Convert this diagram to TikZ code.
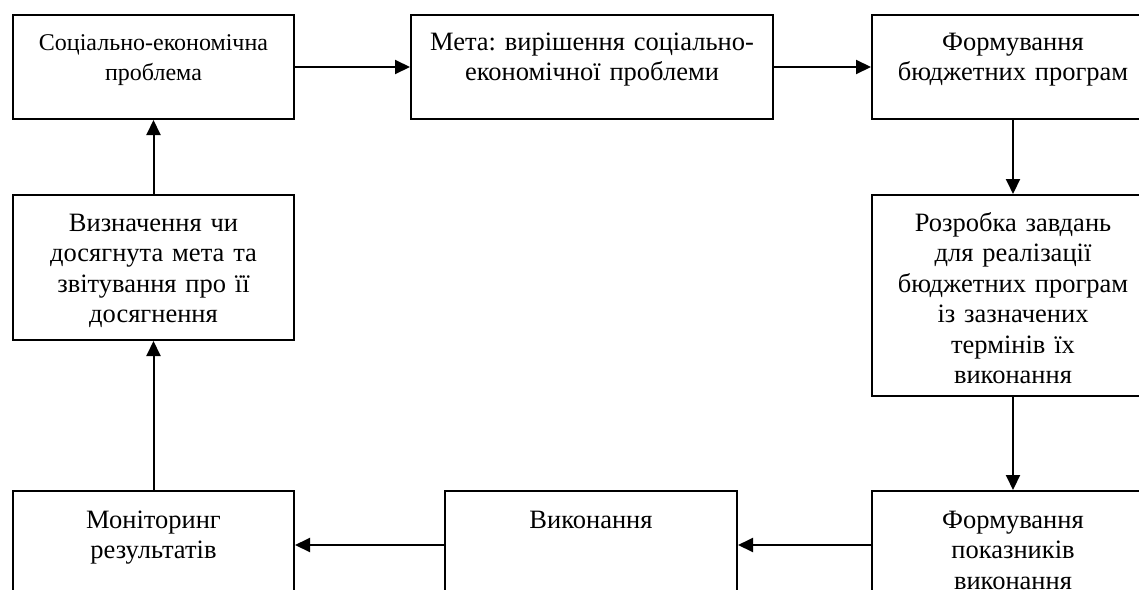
\documentclass[tikz,border=0pt]{standalone}
\usepackage{fontspec}
\setmainfont{Liberation Serif}
\usepackage{tikz}
\usetikzlibrary{positioning}
\usetikzlibrary{arrows.meta}
\frenchspacing

\begin{document}
\begin{tikzpicture}[x=1pt,y=-1pt,
  blk/.style={draw, line width=2pt, inner sep=0pt, align=center,
    font=\fontsize{26.5}{30.5}\selectfont},
  rowbox/.style={text height=35pt, text depth=69pt},
  lowbox/.style={text height=37pt, text depth=71pt},
  arr/.style={line width=2pt, -{Triangle[length=15pt,width=14pt]}}]
\clip (0,0) rectangle (1139,589);

\node (N1) [blk, rowbox, text width=281pt, anchor=north west,
  font=\fontsize{24}{30}\selectfont] at (12,14) {Соціально-економічна\\ проблема};
\node (N2) [blk, rowbox, text width=362pt, right=115pt of N1] {Мета: вирішення соціально-\\ економічної проблеми};
\node (N3) [blk, rowbox, text width=282pt, right=97pt of N2] {Формування\\ бюджетних програм};
\node (N4) [blk, text height=36pt, text depth=165pt, text width=282pt, below=74pt of N3] {Розробка завдань\\ для реалізації\\ бюджетних програм\\ із зазначених\\ термінів їх\\ виконання};
\node (N5) [blk, lowbox, text width=282pt, below=93pt of N4] {Формування\\ показників\\ виконання};
\node (N6) [blk, lowbox, text width=292pt, left=133pt of N5] {Виконання};
\node (N7) [blk, lowbox, text width=281pt, left=149pt of N6] {Моніторинг\\ результатів};
\node (N8) [blk, text height=36pt, text depth=109pt, text width=281pt, above=149pt of N7] {Визначення чи\\ досягнута мета та\\ звітування про її\\ досягнення};

\draw[arr] (N1) -- (N2);
\draw[arr] (N2) -- (N3);
\draw[arr] (N3) -- (N4);
\draw[arr] (N4) -- (N5);
\draw[arr] (N5) -- (N6);
\draw[arr] (N6) -- (N7);
\draw[arr] (N7) -- (N8);
\draw[arr] (N8) -- (N1);
\end{tikzpicture}
\end{document}
